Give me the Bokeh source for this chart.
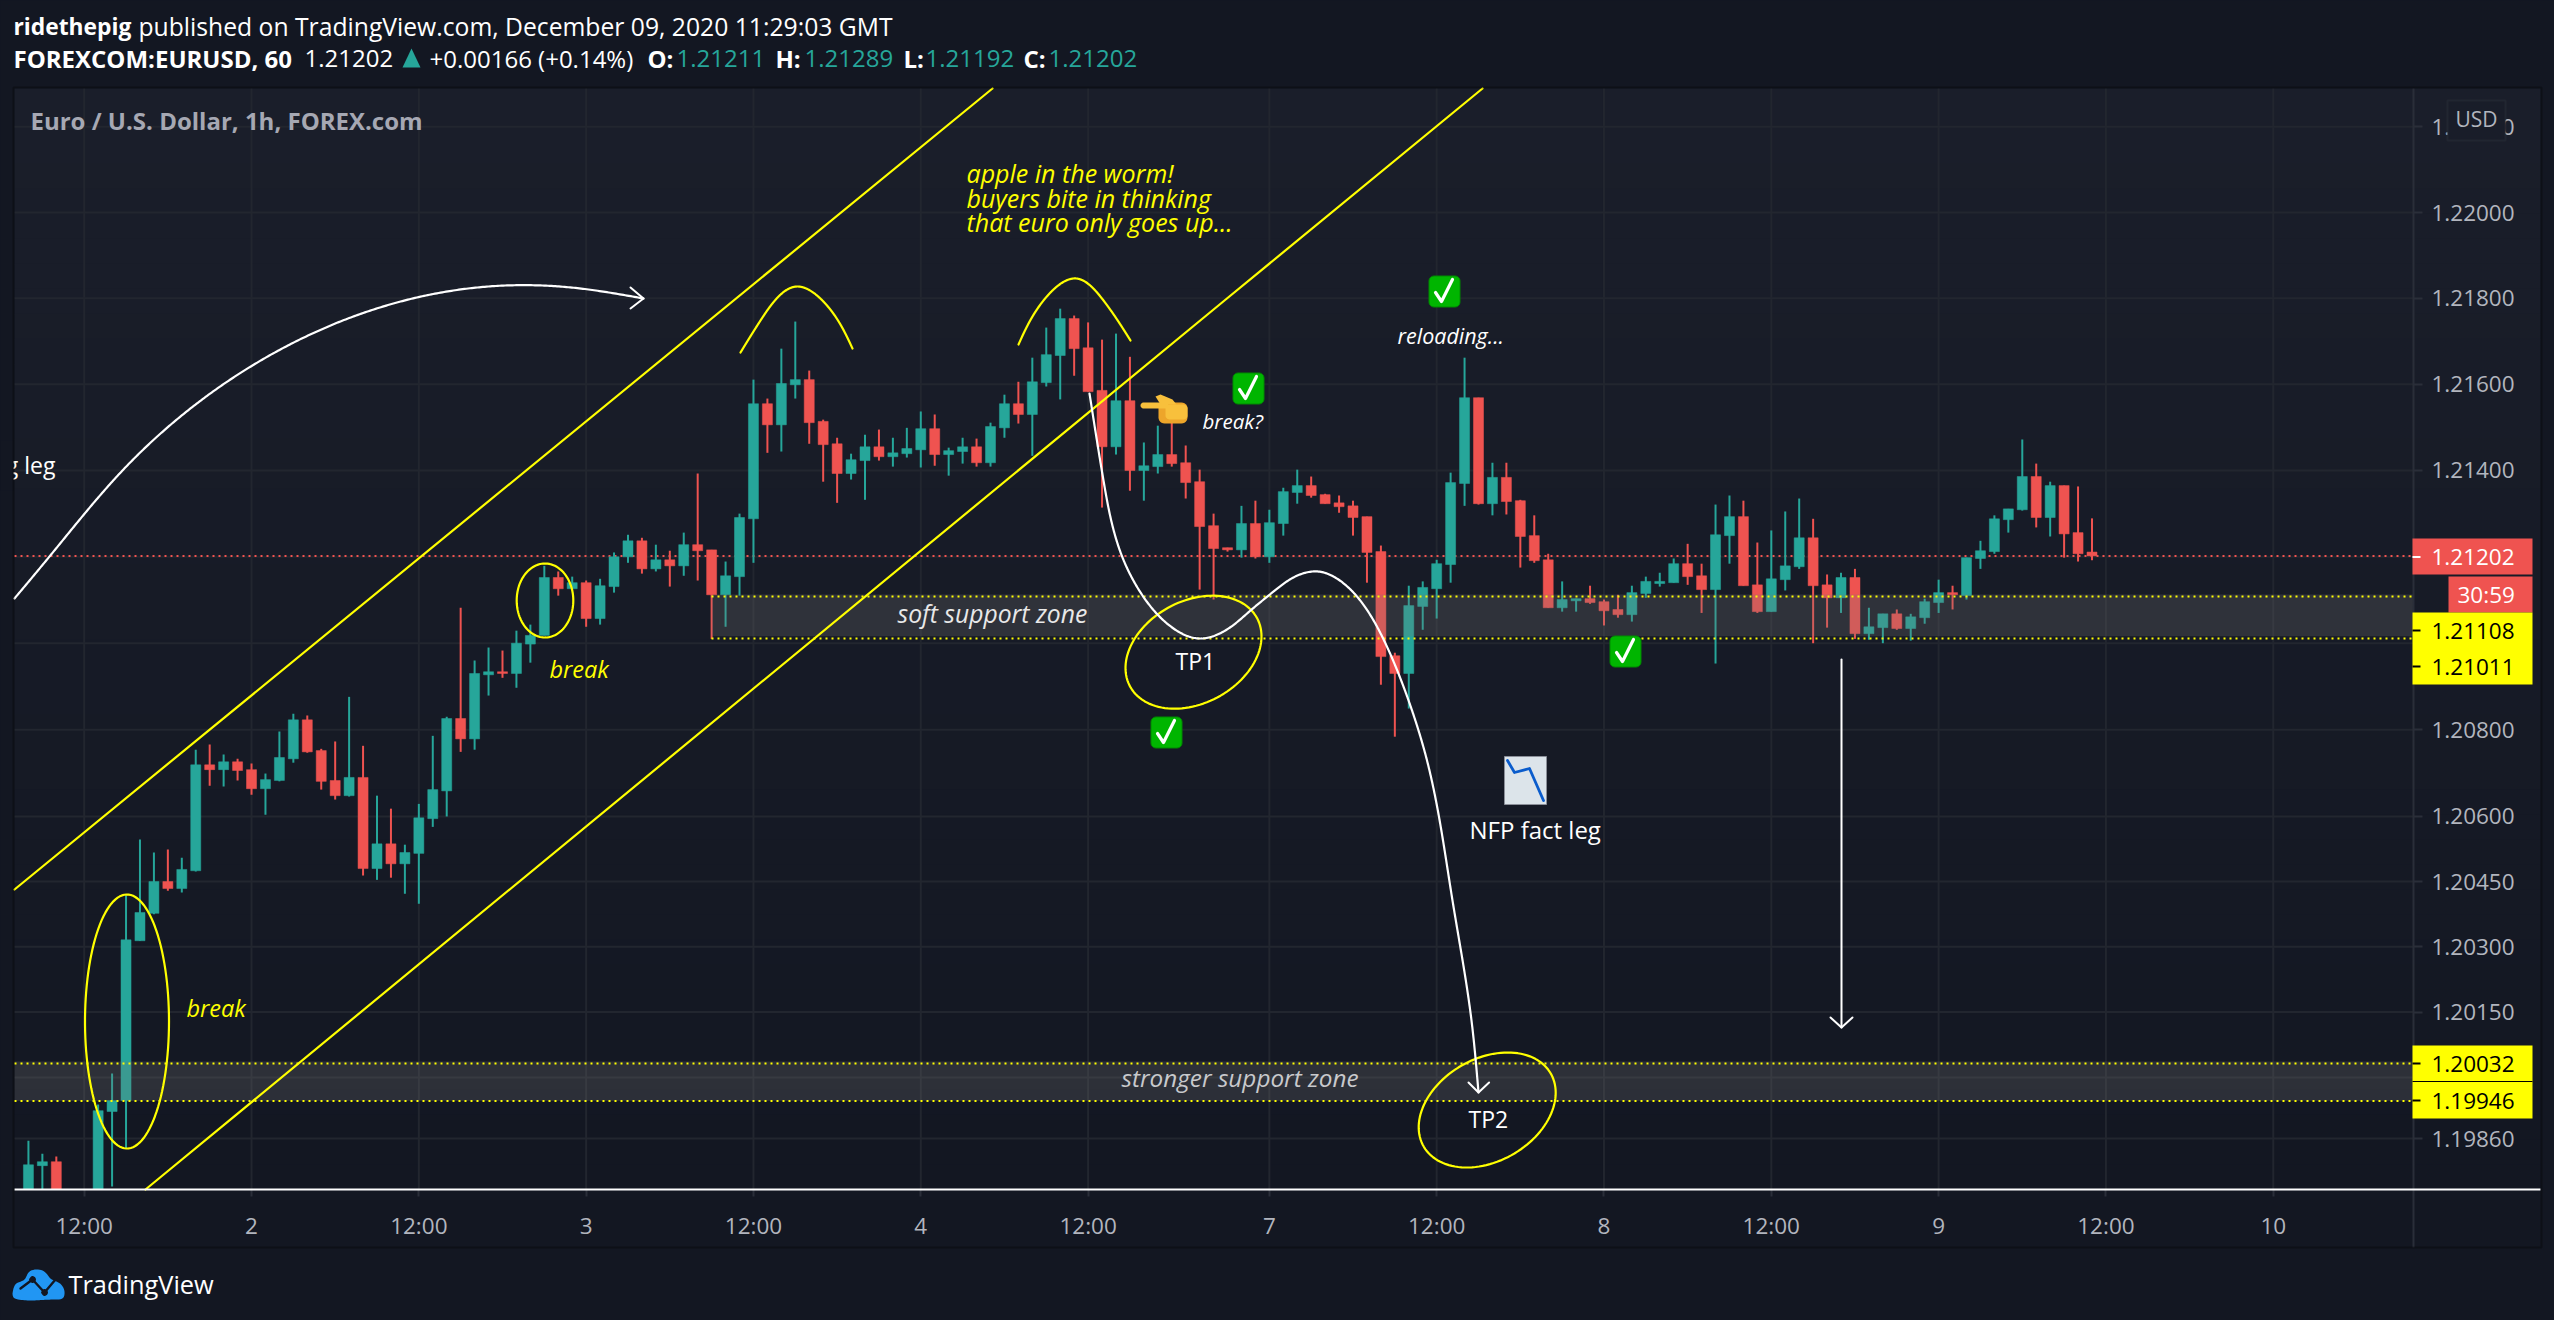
import math
import numpy as np
from bokeh.embed import file_html
from bokeh.resources import INLINE
from bokeh.plotting import figure
from bokeh.models import Range1d, Label, BoxAnnotation, FixedTicker, PrintfTickFormatter

BG = "#131722"
GREEN = "#26a69a"
RED = "#ef5350"
YELLOW = "#ffff00"
FONT = "Open Sans"

opens = [
 1.19718,1.19798,1.19807,1.19718,1.19660,1.19718,1.19922,1.19947,1.20314,1.20377,
 1.20450,1.20434,1.20475,1.20719,1.20708,1.20726,1.20708,1.20664,1.20683,1.20733,
 1.20823,1.20752,1.20683,1.20648,1.20690,1.20480,1.20537,1.20491,1.20515,1.20595,
 1.20659,1.20826,1.20779,1.20927,1.20934,1.20930,1.20998,1.21018,1.21152,1.21126,
 1.21140,1.21057,1.21131,1.21200,1.21237,1.21172,1.21193,1.21179,1.21228,1.21216,
 1.21112,1.21154,1.21288,1.21555,1.21506,1.21599,1.21611,1.21514,1.21462,1.21393,
 1.21423,1.21455,1.21432,1.21439,1.21448,1.21497,1.21437,1.21444,1.21455,1.21418,
 1.21499,1.21555,1.21530,1.21604,1.21667,1.21753,1.21685,1.21586,1.21455,1.21562,
 1.21400,1.21409,1.21437,1.21418,1.21374,1.21272,1.21221,1.21216,1.21277,1.21200,
 1.21277,1.21349,1.21365,1.21344,1.21325,1.21318,1.21293,1.21212,1.20971,1.20930,
 1.21085,1.21126,1.21182,1.21370,1.21569,1.21323,1.21384,1.21330,1.21249,1.21193,
 1.21082,1.21098,1.21103,1.21096,1.21078,1.21066,1.21115,1.21138,1.21140,1.21184,
 1.21156,1.21124,1.21249,1.21293,1.21135,1.21073,1.21147,1.21177,1.21244,1.21135,
 1.21105,1.21152,1.21022,1.21036,1.21068,1.21034,1.21059,1.21094,1.21117,1.21110,
 1.21196,1.21212,1.21286,1.21309,1.21386,1.21291,1.21365,1.21256,1.21211]
highs = [
 1.19855,1.19825,1.19819,1.19725,1.19720,1.19938,1.20009,1.20418,1.20547,1.20517,
 1.20524,1.20505,1.20754,1.20766,1.20743,1.20733,1.20722,1.20699,1.20796,1.20837,
 1.20833,1.20756,1.20773,1.20876,1.20763,1.20648,1.20618,1.20535,1.20629,1.20786,
 1.20830,1.21082,1.20960,1.20990,1.20983,1.21029,1.21043,1.21179,1.21166,1.21154,
 1.21145,1.21149,1.21210,1.21251,1.21244,1.21228,1.21214,1.21256,1.21393,1.21216,
 1.21189,1.21300,1.21611,1.21567,1.21683,1.21746,1.21632,1.21518,1.21476,1.21439,
 1.21483,1.21495,1.21476,1.21499,1.21537,1.21530,1.21453,1.21476,1.21474,1.21511,
 1.21576,1.21606,1.21662,1.21732,1.21776,1.21760,1.21744,1.21704,1.21718,1.21664,
 1.21465,1.21504,1.21516,1.21458,1.21402,1.21300,1.21221,1.21318,1.21330,1.21309,
 1.21360,1.21402,1.21386,1.21346,1.21342,1.21330,1.21293,1.21226,1.20978,1.21133,
 1.21143,1.21193,1.21395,1.21662,1.21569,1.21418,1.21418,1.21332,1.21296,1.21207,
 1.21143,1.21103,1.21133,1.21101,1.21112,1.21133,1.21154,1.21163,1.21196,1.21230,
 1.21184,1.21321,1.21342,1.21330,1.21233,1.21261,1.21305,1.21335,1.21288,1.21159,
 1.21163,1.21172,1.21082,1.21068,1.21078,1.21068,1.21103,1.21147,1.21133,1.21198,
 1.21237,1.21296,1.21311,1.21472,1.21416,1.21374,1.21365,1.21363,1.21289]
lows = [
 1.19695,1.19718,1.19700,1.19660,1.19650,1.19700,1.19750,1.19837,1.20314,1.20375,
 1.20429,1.20425,1.20473,1.20671,1.20669,1.20683,1.20650,1.20604,1.20681,1.20724,
 1.20747,1.20662,1.20639,1.20646,1.20464,1.20454,1.20459,1.20422,1.20399,1.20576,
 1.20600,1.20749,1.20754,1.20879,1.20920,1.20897,1.20955,1.21018,1.21110,1.21126,
 1.21038,1.21043,1.21117,1.21186,1.21161,1.21166,1.21131,1.21156,1.21145,1.21010,
 1.21038,1.21110,1.21186,1.21441,1.21444,1.21567,1.21462,1.21374,1.21325,1.21379,
 1.21332,1.21423,1.21409,1.21430,1.21407,1.21411,1.21388,1.21416,1.21409,1.21409,
 1.21476,1.21509,1.21434,1.21595,1.21565,1.21620,1.21583,1.21314,1.21437,1.21353,
 1.21330,1.21393,1.21409,1.21335,1.21124,1.21101,1.21212,1.21198,1.21196,1.21186,
 1.21249,1.21323,1.21337,1.21323,1.21302,1.21249,1.21140,1.20904,1.20784,1.20849,
 1.21031,1.21057,1.21140,1.21318,1.21321,1.21296,1.21298,1.21175,1.21186,1.21082,
 1.21073,1.21073,1.21091,1.21041,1.21059,1.21050,1.21105,1.21131,1.21140,1.21135,
 1.21070,1.20953,1.21184,1.21133,1.21070,1.21073,1.21122,1.21172,1.21000,1.21036,
 1.21070,1.21010,1.21008,1.21000,1.21031,1.21006,1.21045,1.21070,1.21078,1.21101,
 1.21172,1.21207,1.21256,1.21307,1.21268,1.21247,1.21198,1.21189,1.21192]
closes = [
 1.19800,1.19807,1.19718,1.19680,1.19700,1.19924,1.19947,1.20316,1.20379,1.20450,
 1.20434,1.20478,1.20719,1.20708,1.20726,1.20706,1.20664,1.20685,1.20736,1.20823,
 1.20749,1.20681,1.20648,1.20690,1.20480,1.20537,1.20491,1.20517,1.20597,1.20662,
 1.20826,1.20779,1.20930,1.20934,1.20930,1.21000,1.21018,1.21152,1.21126,1.21140,
 1.21057,1.21133,1.21200,1.21237,1.21172,1.21193,1.21179,1.21228,1.21214,1.21112,
 1.21156,1.21291,1.21555,1.21506,1.21602,1.21611,1.21511,1.21460,1.21393,1.21425,
 1.21455,1.21432,1.21441,1.21451,1.21497,1.21437,1.21446,1.21455,1.21418,1.21502,
 1.21555,1.21530,1.21606,1.21669,1.21753,1.21683,1.21583,1.21455,1.21562,1.21400,
 1.21411,1.21437,1.21416,1.21372,1.21270,1.21219,1.21216,1.21277,1.21200,1.21279,
 1.21351,1.21365,1.21342,1.21323,1.21316,1.21291,1.21210,1.20969,1.20930,1.21087,
 1.21129,1.21184,1.21372,1.21569,1.21323,1.21384,1.21328,1.21247,1.21191,1.21082,
 1.21101,1.21103,1.21094,1.21075,1.21066,1.21117,1.21143,1.21143,1.21184,1.21154,
 1.21124,1.21251,1.21293,1.21133,1.21073,1.21149,1.21179,1.21244,1.21133,1.21105,
 1.21152,1.21022,1.21038,1.21068,1.21034,1.21061,1.21096,1.21117,1.21112,1.21198,
 1.21214,1.21288,1.21311,1.21386,1.21291,1.21365,1.21253,1.21207,1.21202]

tick_bars = [4, 16, 28, 40, 52, 64, 76, 89, 101, 113, 125, 137, 149, 161]
tick_labels = ["12:00", "2", "12:00", "3", "12:00", "4", "12:00", "7", "12:00", "8", "12:00", "9", "12:00", "10"]
price_ticks = [1.222, 1.22, 1.218, 1.216, 1.214, 1.212, 1.21, 1.208, 1.206, 1.2045, 1.203, 1.2015, 1.2, 1.1986]
last_price = 1.21202
soft_zone = (1.21108, 1.21011)
strong_zone = (1.20032, 1.19946)

# page pixel -> chart scale, used for the drawn-on annotations
def xd(X):
    return 4 + (X - 83.7) / 13.943
def yd(Y):
    return 1.22 * math.exp(-(Y - 212) / 52330)

W, H = 2554, 1320
FL, FR, FT, FB = 14, 2413, 88, 1189

# the frame fills the page so the header and the price tags can be drawn; axes sit at fixed locations
p = figure(width=W, height=H, y_axis_type="log", y_axis_location="right",
           x_range=Range1d(xd(0), xd(W)), y_range=Range1d(yd(H), yd(0)),
           output_backend="svg", toolbar_location=None,
           min_border_left=0, min_border_right=0, min_border_top=0, min_border_bottom=0,
           background_fill_color=BG, border_fill_color=BG, outline_line_color=None)
p.grid.visible = False

p.xaxis.ticker = FixedTicker(ticks=tick_bars)
p.xaxis.major_label_overrides = dict(zip(tick_bars, tick_labels))
p.xaxis[0].fixed_location = yd(FB)
p.yaxis.ticker = FixedTicker(ticks=price_ticks)
p.yaxis.formatter = PrintfTickFormatter(format="%.5f")
p.yaxis[0].fixed_location = xd(FR)
for ax in (p.xaxis[0], p.yaxis[0]):
    ax.axis_line_color = None
    ax.major_tick_line_color = "#2a2e39"
    ax.major_tick_line_width = 2
    ax.major_tick_in = 0
    ax.minor_tick_in = 0
    ax.minor_tick_out = 0
    ax.major_label_text_color = "#b2b5be"
    ax.major_label_text_font = FONT
    ax.major_label_text_font_size = "22.5px"
p.xaxis.major_tick_out = 7
p.xaxis.major_label_standoff = 13
p.yaxis.major_tick_out = 9
p.yaxis.major_label_standoff = 9

def box(X0, X1, Y0, Y1, color, level="annotation", alpha=1.0, **kw):
    b = BoxAnnotation(left=X0, right=X1, top=H - Y0, bottom=H - Y1,
                      left_units="screen", right_units="screen", top_units="screen", bottom_units="screen",
                      fill_color=color, fill_alpha=alpha, line_color=kw.get("line_color"),
                      line_width=kw.get("line_width", 1), level=level, editable=False)
    p.add_layout(b)
    return b

def txt(s, X, Y, size, color="#ffffff", style="normal", align="left", font=FONT):
    p.add_layout(Label(x=X, y=H - Y, x_units="screen", y_units="screen", text=s, text_font=font,
                       text_font_size=f"{size}px", text_color=color, text_font_style=style,
                       text_align=align, text_baseline="middle"))

def smooth(pts, n=400):
    """natural cubic spline through the points, parameterised by chord length"""
    a = np.array(pts, dtype=float)
    t = np.concatenate([[0], np.cumsum(np.hypot(*np.diff(a, axis=0).T))])
    m = len(a)
    A = np.zeros((m, m))
    A[0, 0] = A[-1, -1] = 1
    out = []
    for i in range(1, m - 1):
        h0, h1 = t[i] - t[i - 1], t[i + 1] - t[i]
        A[i, i - 1], A[i, i], A[i, i + 1] = h0, 2 * (h0 + h1), h1
    tt = np.linspace(t[0], t[-1], n)
    for c in range(2):
        y = a[:, c]
        b = np.zeros(m)
        for i in range(1, m - 1):
            b[i] = 6 * ((y[i + 1] - y[i]) / (t[i + 1] - t[i]) - (y[i] - y[i - 1]) / (t[i] - t[i - 1]))
        M = np.linalg.solve(A, b)
        j = np.clip(np.searchsorted(t, tt) - 1, 0, m - 2)
        h = t[j + 1] - t[j]
        u = t[j + 1] - tt
        v = tt - t[j]
        out.append(M[j] * u ** 3 / (6 * h) + M[j + 1] * v ** 3 / (6 * h)
                   + (y[j] / h - M[j] * h / 6) * u + (y[j + 1] / h - M[j + 1] * h / 6) * v)
    return np.column_stack(out)

def draw(pts, color, width=2.0, dash="solid"):
    pts = np.asarray(pts, dtype=float)
    p.line([xd(x) for x in pts[:, 0]], [yd(y) for y in pts[:, 1]], line_color=color,
           line_width=width, line_dash=dash, line_join="round", line_cap="round")

def fill(pts, color, line=None, alpha=1.0):
    pts = np.asarray(pts, dtype=float)
    p.patch([xd(x) for x in pts[:, 0]], [yd(y) for y in pts[:, 1]], fill_color=color,
            fill_alpha=alpha, line_color=line, line_width=1 if line else 0)

def ellipse(cx, cy, ex, ey, rho=0.0, n=120):
    t = np.linspace(0, 2 * np.pi, n)
    return np.column_stack([cx + ex * np.cos(t),
                            cy + ey * (rho * np.cos(t) + math.sqrt(1 - rho * rho) * np.sin(t))])

def rrect(X0, X1, Y0, Y1, r):
    pts = []
    for cx, cy, a0 in ((X1 - r, Y0 + r, -90), (X1 - r, Y1 - r, 0), (X0 + r, Y1 - r, 90), (X0 + r, Y0 + r, 180)):
        for a in np.radians(np.linspace(a0, a0 + 90, 7)):
            pts.append((cx + r * math.cos(a), cy + r * math.sin(a)))
    return pts

# background: faint vertical gradient inside the chart box
bands = 44
for k in range(bands):
    f = k / (bands - 1)
    c = tuple(round(a + (b - a) * f) for a, b in zip((0x1a, 0x1e, 0x2a), (0x13, 0x17, 0x22)))
    y0 = FT + (FB - FT) * k / bands
    y1 = FT + (FB - FT) * (k + 1) / bands + 1
    box(FL, 2540, y0, y1, "#%02x%02x%02x" % c, level="image")

# grid, kept inside the plot area
GRID = "#22262f"
p.segment(tick_bars, yd(FB), tick_bars, yd(FT), line_color=GRID, line_width=2)
p.segment(xd(FL), price_ticks, xd(FR), price_ticks, line_color=GRID, line_width=2)

# last price line
p.line([xd(FL), xd(FR)], [last_price, last_price], line_color=RED, line_width=2, line_dash="2 4")

# candles, cut off at the time scale
floor = yd(FB)
xs = list(range(len(closes)))
colors = [GREEN if c >= o else RED for o, c in zip(opens, closes)]
seen = [h > floor for h in highs]
xv = [x for x, s in zip(xs, seen) if s]
cv = [c for c, s in zip(colors, seen) if s]
p.segment(xv, [max(l, floor) for l, s in zip(lows, seen) if s], xv, [h for h, s in zip(highs, seen) if s],
          line_color=cv, line_width=2)
p.vbar(xv, width=0.72, bottom=[max(o, floor) for o, s in zip(opens, seen) if s],
       top=[max(c, floor) for c, s in zip(closes, seen) if s],
       fill_color=cv, line_color=cv, line_width=0.5)

# zones
for (hi, lo), X0 in ((soft_zone, 711), (strong_zone, FL)):
    p.quad(left=xd(X0), right=xd(FR), top=hi * 1.00004, bottom=lo * 1.00004 if X0 > 100 else lo,
           fill_color="#787878", fill_alpha=0.25, line_color=None)
    p.line([xd(X0), xd(FR)], [hi, hi], line_color=YELLOW, line_width=2, line_dash="2 4")
    p.line([xd(X0), xd(FR)], [lo, lo], line_color=YELLOW, line_width=2, line_dash="2 4")

# channel
draw([(14, 889), (992, 88)], YELLOW, 2.2)
draw([(145, 1189), (1224, 300), (1482, 88)], YELLOW, 2.2)

# ellipses and humps
draw(ellipse(126.5, 1021, 42, 127), YELLOW, 2.2)
draw(ellipse(544.5, 600, 28.3, 37), YELLOW, 2.2)
draw(ellipse(1193, 651.7, 68, 56.5, -0.28), YELLOW, 2.2)
draw(ellipse(1486.7, 1109.5, 68.5, 57.5, -0.30), YELLOW, 2.2)
draw(smooth([(740, 352), (760, 320), (797, 286), (829, 308), (852, 348)]), YELLOW, 2.2)
draw(smooth([(1018, 344), (1043, 300), (1076, 278), (1103, 300), (1130, 340)]), YELLOW, 2.2)

# white curves and arrows
draw(smooth([(14, 598), (49, 556), (122, 470), (224, 383), (408, 299), (505, 285), (580, 288), (643, 298)]), "#ffffff", 2.2)
draw([(630, 287), (643, 298), (630, 308)], "#ffffff", 2.0)
draw(smooth([(1089, 393), (1103, 480), (1122, 557), (1142, 595), (1166.5, 623), (1199, 638),
              (1228, 628), (1250, 610), (1270.6, 593), (1297, 575), (1317.5, 571), (1342, 582), (1362, 603),
              (1385, 643), (1407, 697), (1426, 758), (1452, 900), (1471, 1020), (1478, 1092)], n=800), "#ffffff", 2.2)
draw([(1468, 1082), (1478, 1092), (1488.6, 1082)], "#ffffff", 2.0)
draw([(1841, 659), (1841, 1027)], "#ffffff", 2.0)
draw([(1830, 1017), (1841, 1027), (1852, 1017)], "#ffffff", 2.0)

# check marks
for cx, cy in ((1444, 291), (1248, 388), (1166, 732), (1625, 651)):
    fill(rrect(cx - 15.5, cx + 15.5, cy - 15.5, cy + 15.5, 5), "#00b500", line="#008a00")
    draw([(cx - 9, cy + 1), (cx - 3, cy + 10), (cx + 8, cy - 12)], "#ffffff", 3.2)

# pointing hand
fill(rrect(1158, 1187, 402, 423, 6), "#eda52a")
fill(rrect(1140, 1168, 402, 408, 3), "#f8c03c")
fill([(1155, 396), (1160, 394), (1172, 399), (1176, 404), (1160, 404)], "#f8c03c")
fill(rrect(1165, 1187, 404, 419, 4), "#f8c03c")

# chart icon
fill([(1504, 756), (1546, 756), (1546, 804), (1504, 804)], "#dce4ea", line="#8b8f99")
draw([(1507, 760), (1514, 772), (1529, 768), (1543, 800)], "#0a5ccc", 2.8)

# chart texts
txt("Euro / U.S. Dollar, 1h, FOREX.com", 30, 120, 24, "#a6a8b3", "bold")
for s, y in (("apple in the worm!", 172), ("buyers bite in thinking", 197), ("that euro only goes up...", 221)):
    txt(s, 966, y, 25, YELLOW, "italic")
txt("break", 186, 1007, 23.5, YELLOW, "italic")
txt("break", 549, 668, 23.5, YELLOW, "italic")
txt("g leg", 55, 464, 23, align="right")
box(0, 13, 440, 490, BG)
txt("break?", 1202, 420, 20.5, "#ffffff", "italic")
txt("reloading...", 1397, 335, 21.5, "#ffffff", "italic")
txt("soft support zone", 897, 613, 24.7, "#e8e8e8", "italic")
txt("stronger support zone", 1121, 1077, 24.3, "#c8c9cc", "italic")
txt("TP1", 1175, 660, 23)
txt("TP2", 1468, 1118, 23)
txt("NFP fact leg", 1469, 829, 24)

# price scale decorations
box(FR - 1, FR + 1, FT, 1247, "#2a2e39")
box(FL, 2540, 1188, 1190, "#ffffff")
box(2447, 2505, 100, 140, "#191d29", line_color="#363a45", line_width=2)
txt("USD", 2476, 118, 21, "#b2b5be", align="center")
box(2412, 2532, 538, 574, RED)
box(2412, 2420, 555.5, 557.5, "#ffffff")
txt("1.21202", 2431, 556, 22.5)
box(2448, 2532, 576, 612, RED)
txt("30:59", 2457, 594, 22.5)
box(2412, 2532, 612, 684, YELLOW)
box(2412, 2420, 629, 631, "#000000")
box(2412, 2420, 665, 667, "#000000")
txt("1.21108", 2431, 630, 22.5, "#000000")
txt("1.21011", 2431, 666, 22.5, "#000000")
box(2412, 2532, 1045, 1118, YELLOW)
box(2412, 2532, 1080.5, 1081.5, "#000000")
box(2412, 2420, 1062, 1064, "#000000")
box(2412, 2420, 1099, 1101, "#000000")
txt("1.20032", 2431, 1063, 22.5, "#000000")
txt("1.19946", 2431, 1100, 22.5, "#000000")
box(13, 2541, 87, 1247, "#000000", alpha=0.0, line_color="#000000", line_width=2)

# header
txt("ridethepig", 13, 26, 22.8, style="bold")
txt("published on TradingView.com, December 09, 2020 11:29:03 GMT", 138, 26, 24.7)
txt("FOREXCOM:EURUSD, 60", 13, 58, 24, style="bold")
txt("1.21202", 304, 58, 24)
fill([(411, 48), (420, 67), (402, 67)], GREEN)
txt("+0.00166 (+0.14%)", 429, 58, 24)
txt("O:", 647, 58, 24, style="bold")
txt("1.21211", 676, 58, 24, GREEN)
txt("H:", 775, 58, 24, style="bold")
txt("1.21289", 804, 58, 24, GREEN)
txt("L:", 903, 58, 24, style="bold")
txt("1.21192", 925, 58, 24, GREEN)
txt("C:", 1023, 58, 24, style="bold")
txt("1.21202", 1048, 58, 24, GREEN)

# footer logo
fill(smooth([(12, 1293), (16, 1283), (24, 1279), (28, 1272), (36, 1269), (45, 1272), (50, 1278), (58, 1282),
             (64, 1291), (62, 1298), (56, 1299), (18, 1299), (13, 1297), (12, 1293)], n=90), "#2196f3")
draw([(20, 1288), (32, 1279), (44, 1292), (55, 1279)], BG, 2.4)
fill(smooth([(28.5, 1279), (32, 1275.5), (35.5, 1279), (32, 1282.5), (28.5, 1279)], n=24), BG)
fill(smooth([(40.5, 1292), (44, 1288.5), (47.5, 1292), (44, 1295.5), (40.5, 1292)], n=24), BG)
txt("TradingView", 68, 1283, 25.4)

html = file_html(p, INLINE)
html = html.replace("<head>", "<head><style>html,body{background:#131722}</style>", 1)
open("out.html", "w").write(html)
